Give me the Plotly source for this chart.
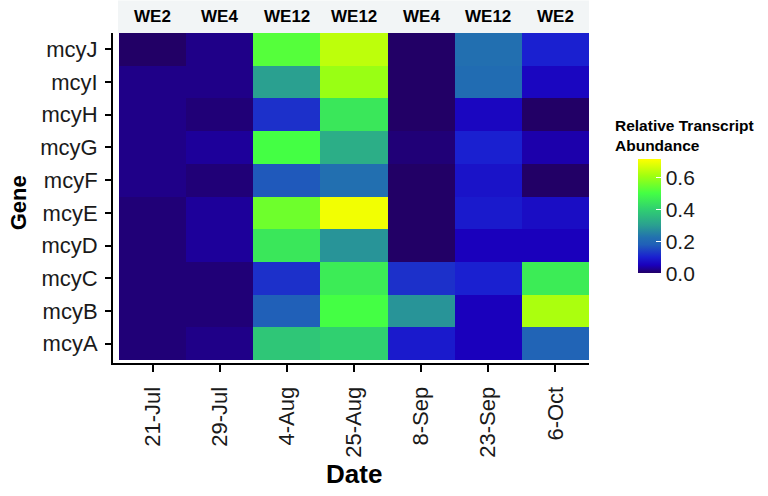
import plotly.graph_objects as go

dates = ["21-Jul", "29-Jul", "4-Aug", "25-Aug", "8-Sep", "23-Sep", "6-Oct"]
sites = ["WE2", "WE4", "WE12", "WE12", "WE4", "WE12", "WE2"]
genes = ["mcyA", "mcyB", "mcyC", "mcyD", "mcyE", "mcyF", "mcyG", "mcyH", "mcyI", "mcyJ"]

# values per gene, one per date (21-Jul ... 6-Oct)
mcyA = [0.01, 0.02, 0.38, 0.40, 0.09, 0.05, 0.19]
mcyB = [0.01, 0.01, 0.18, 0.50, 0.28, 0.05, 0.62]
mcyC = [0.01, 0.01, 0.12, 0.46, 0.12, 0.10, 0.46]
mcyD = [0.01, 0.03, 0.45, 0.28, 0.00, 0.05, 0.05]
mcyE = [0.01, 0.03, 0.55, 0.70, 0.00, 0.09, 0.07]
mcyF = [0.02, 0.01, 0.17, 0.22, 0.00, 0.08, 0.00]
mcyG = [0.02, 0.03, 0.50, 0.33, 0.01, 0.10, 0.04]
mcyH = [0.02, 0.01, 0.12, 0.45, 0.00, 0.06, 0.00]
mcyI = [0.02, 0.02, 0.30, 0.60, 0.00, 0.21, 0.06]
mcyJ = [0.00, 0.02, 0.52, 0.64, 0.00, 0.22, 0.10]

z = [mcyA, mcyB, mcyC, mcyD, mcyE, mcyF, mcyG, mcyH, mcyI, mcyJ]

zmax = 0.715
colorscale = [
    [0.00, "#220066"],
    [0.07, "#1a00bc"],
    [0.14, "#1a20d0"],
    [0.25, "#2060b8"],
    [0.31, "#2270b0"],
    [0.42, "#2aa090"],
    [0.56, "#30d070"],
    [0.70, "#44ff44"],
    [0.85, "#a0ff10"],
    [1.00, "#ffff00"],
]

W, H = 768, 496
L, R, T, B = 113, 589, 32.5, 363
pw, ph = R - L, B - T
colw = (589 - 119) / 7.0
rowh = (360 - 32.5) / 10.0

REG = "Liberation Sans, Arial"

fig = go.Figure(go.Heatmap(
    x=dates, y=genes, z=z,
    zmin=0, zmax=zmax, colorscale=colorscale,
    colorbar=dict(
        x=(638 - L) / pw, xanchor="left", xpad=0, ypad=0,
        y=(B - 216) / ph, yanchor="middle",
        len=114, lenmode="pixels", thickness=23, outlinewidth=0,
        tickvals=[0.0, 0.2, 0.4, 0.6], ticktext=["0.0", "0.2", "0.4", "0.6"],
        ticks="inside", ticklen=5, tickcolor="white", tickwidth=1,
        tickfont=dict(family=REG, size=21, color="#1a1a1a"),
    ),
))

fig.update_layout(
    width=W, height=H,
    margin=dict(l=L, r=W - R, t=T, b=H - B, autoexpand=False),
    plot_bgcolor="white", paper_bgcolor="white",
    font=dict(family=REG, color="#1a1a1a"),
)
fig.update_xaxes(
    type="category", range=[-0.5 - 6 / colw, 6.5],
    showline=True, linecolor="black", linewidth=2,
    ticks="outside", ticklen=7, tickwidth=2, tickcolor="black",
    ticklabelstandoff=6,
    tickangle=-90, tickfont=dict(family=REG, size=22, color="#1a1a1a"), showgrid=False,
)
fig.update_yaxes(
    type="category", range=[-0.5 - 3 / rowh, 9.5],
    showline=True, linecolor="black", linewidth=2,
    ticks="outside", ticklen=6, tickwidth=2, tickcolor="black",
    ticklabelstandoff=3,
    tickfont=dict(family=REG, size=22, color="#1a1a1a"), showgrid=False,
)

# strip on top
fig.add_shape(type="rect", xref="paper", yref="paper",
              x0=(118 - L) / pw, x1=1, y0=1, y1=1 + T / ph,
              fillcolor="#f2f5f6", line=dict(width=0), layer="below")
for d, s in zip(dates, sites):
    fig.add_annotation(x=d, xref="x", y=1 + (T - 16) / ph, yref="paper",
                       text="<b>%s</b>" % s, showarrow=False,
                       font=dict(family=REG, size=17, color="black"),
                       yanchor="middle")

fig.add_annotation(x=(354 - L) / pw, xref="paper", y=(B - 474) / ph, yref="paper",
                   text="<b>Date</b>", showarrow=False, yanchor="middle",
                   font=dict(family=REG, size=26, color="black"))
fig.add_annotation(x=(18 - L) / pw, xref="paper", y=(B - 203) / ph, yref="paper",
                   text="<b>Gene</b>", showarrow=False, textangle=-90,
                   xanchor="center", yanchor="middle",
                   font=dict(family=REG, size=22, color="black"))
fig.add_annotation(x=(613 - L) / pw, xref="paper", y=(B - 115) / ph, yref="paper",
                   text="<b>Relative Transcript<br>Abundance</b>", showarrow=False,
                   xanchor="left", yanchor="top", align="left",
                   font=dict(family=REG, size=15.5, color="black"))

fig.write_html("out.html", config={"displayModeBar": False},
               post_script="document.body.style.margin='0';document.body.style.padding='0';")
